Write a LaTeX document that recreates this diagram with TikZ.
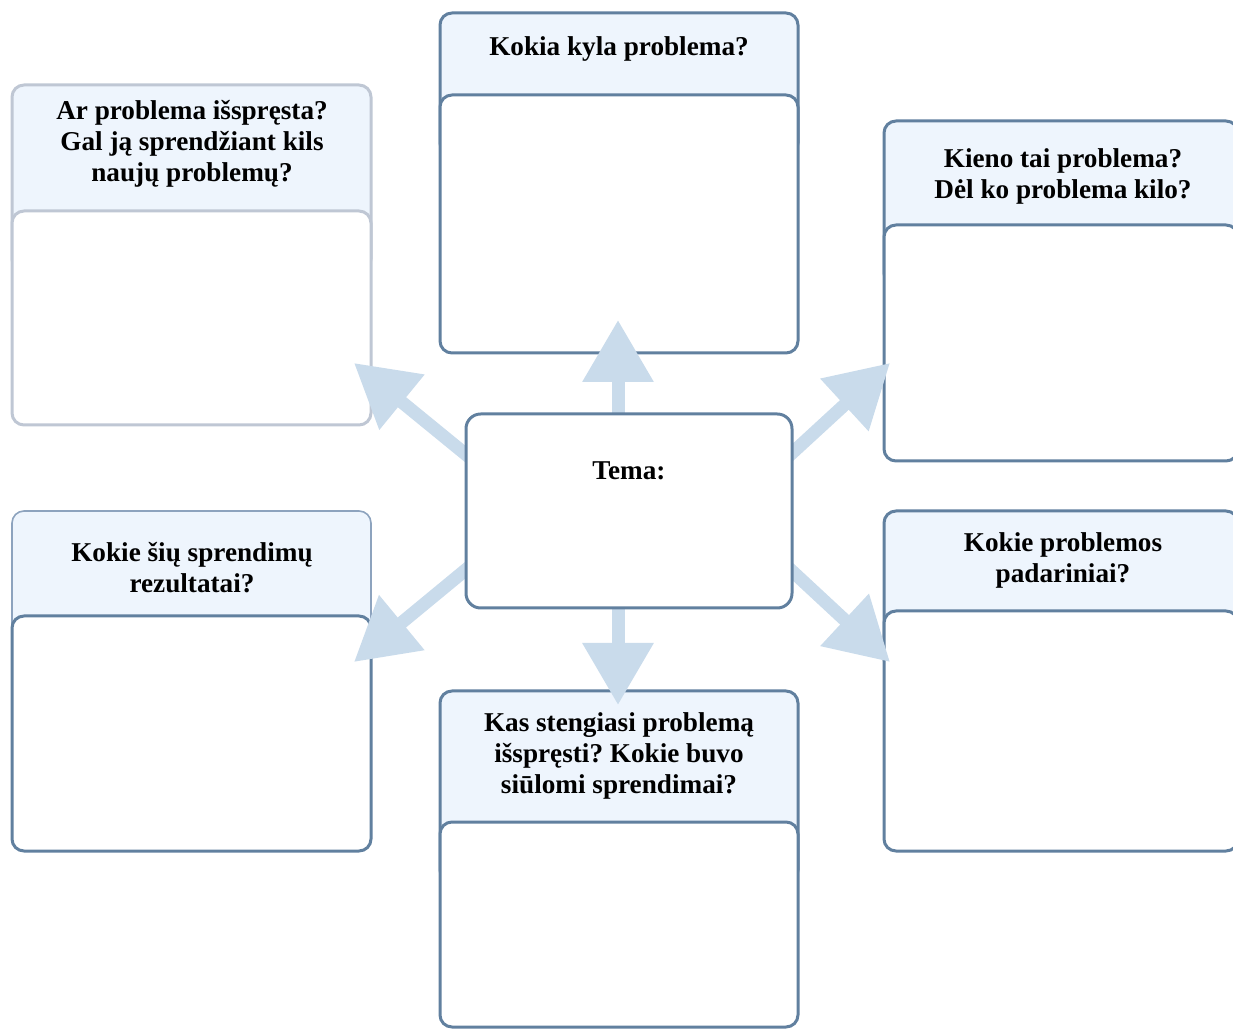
\documentclass[tikz,border=0pt]{standalone}
\usepackage{fontspec}
\setmainfont{Liberation Serif}
\usetikzlibrary{arrows.meta}
\definecolor{bord}{HTML}{61809F}
\definecolor{lightbord}{HTML}{BFC7D4}
\definecolor{midbord}{HTML}{8DA3BE}
\definecolor{headfill}{HTML}{EEF5FD}
\definecolor{arrowblue}{HTML}{C9DBEB}
\tikzset{
  px/.style={x=0.75pt,y=-0.75pt},
  boxbase/.style={rectangle, rounded corners=9pt, inner sep=0pt, outer sep=0pt, line width=2.25pt, draw=bord},
  headbox/.style={boxbase, fill=headfill},
  bodybox/.style={boxbase, fill=white},
  qtext/.style={align=center, font=\fontsize{20.4}{23.3}\selectfont\bfseries\frenchspacing, inner sep=0pt},
  bigarrow/.style={draw=arrowblue, line width=9.75pt, -{Triangle[length=46.5pt,width=51pt,fill=arrowblue]}},
}
\newcommand{\qbox}[7]{% name, x1, x2, headtop, bodytop, bodybottom, style
  \node[headbox,#7, anchor=north west, minimum width={(#3-#2)*0.75pt}, minimum height={((#5-#4)+60)*0.75pt}] (#1h) at (#2,#4) {};
  \node[bodybox,#7, anchor=north west, minimum width={(#3-#2)*0.75pt}, minimum height={(#6-#5)*0.75pt}] (#1b) at (#2,#5) {};
}
\begin{document}
\begin{tikzpicture}[px]
\useasboundingbox (0,0) rectangle (1233,1030);
\clip (0,0) rectangle (1233,1030);
% boxes
\qbox{T}{440}{798}{13}{95}{353}{}
\qbox{TL}{12}{371}{85}{211}{425}{draw=lightbord}
\qbox{TR}{884}{1238}{121}{225}{461}{}
\node[headbox, draw=midbord, line width=1.2pt, anchor=north west, minimum width={359*0.75pt}, minimum height={165*0.75pt}] (Lh) at (12,511) {};
\node[bodybox, anchor=north west, minimum width={359*0.75pt}, minimum height={235*0.75pt}] (Lb) at (12,616) {};
\qbox{R}{884}{1238}{511}{611}{851}{}
\qbox{B}{440}{798}{691}{822}{1027}{}
% header texts
\node[qtext] (tT) at (619,49.5) {Kokia kyla problema?};
\node[qtext] (tTL) at (192,144) {Ar problema išspręsta?\\Gal ją sprendžiant kils\\naujų problemų?};
\node[qtext] (tTR) at (1063,176) {Kieno tai problema?\\Dėl ko problema kilo?};
\node[qtext] (tL) at (192,568) {Kokie šių sprendimų\\rezultatai?};
\node[qtext] (tR) at (1063,560) {Kokie problemos\\padariniai?};
\node[qtext] (tB) at (619,756) {Kas stengiasi problemą\\išspręsti? Kokie buvo\\siūlomi sprendimai?};
% arrows
\coordinate (mid) at (618,511);
\coordinate (tipU) at (618,320);
\coordinate (tipD) at (618,705);
\coordinate (tipUL) at (354,363);
\coordinate (tipUR) at (890,363);
\coordinate (tipLL) at (354,662);
\coordinate (tipLR) at (890,662);
\coordinate (sUL) at (480,466);
\coordinate (sUR) at (778,466);
\coordinate (sLL) at (480,558);
\coordinate (sLR) at (778,558);
\draw[bigarrow] (mid) -- (tipU);
\draw[bigarrow] (mid) -- (tipD);
\draw[bigarrow] (sUL) -- (tipUL);
\draw[bigarrow] (sUR) -- (tipUR);
\draw[bigarrow] (sLL) -- (tipLL);
\draw[bigarrow] (sLR) -- (tipLR);
% center box on top
\node[bodybox, minimum width={326*0.75pt}, minimum height={194*0.75pt}, rounded corners=11pt] (c) at (629,511) {};
\node[qtext] (tema) at (629,471) {Tema:};
\end{tikzpicture}
\end{document}
